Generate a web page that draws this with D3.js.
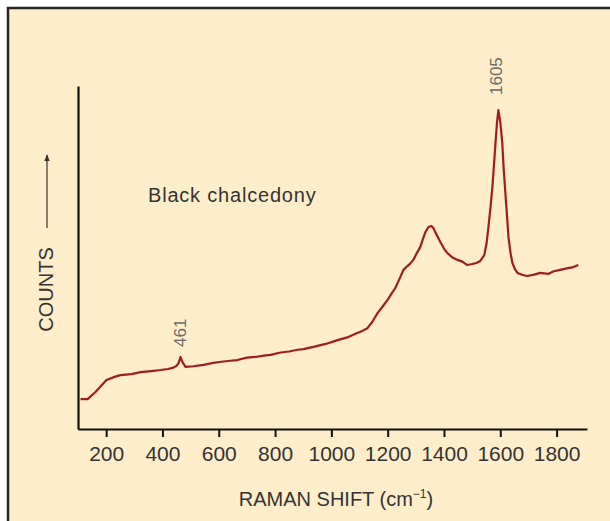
<!DOCTYPE html>
<html>
<head>
<meta charset="utf-8">
<script src="https://cdn.jsdelivr.net/npm/d3@7"></script>
<style>
  html, body { margin: 0; padding: 0; background: #ffffff; }
  svg { display: block; }
</style>
</head>
<body>
<div id="chart"></div>
<script>
// Raman spectrum of black chalcedony
// wavenumber (cm-1) and relative counts (0..100)
const ramanShift = [109, 134, 162, 201, 230, 251, 290, 322, 360, 393, 420, 436, 450, 457, 464, 471, 482,
  510, 546, 580, 610, 640, 666, 700, 730, 760, 784, 820, 850, 880, 901, 940, 980, 1022, 1060, 1092, 1110,
  1128, 1145, 1164, 1180, 1199, 1215, 1227, 1240, 1256, 1270, 1280, 1291, 1305, 1316, 1326, 1334, 1345,
  1355, 1362, 1369, 1378, 1387, 1400, 1412, 1430, 1448, 1465, 1483, 1500, 1515, 1529, 1543, 1551, 1558,
  1565, 1572, 1578, 1583, 1588, 1593, 1600, 1607, 1612, 1618, 1624, 1629, 1636, 1643, 1652, 1661, 1680,
  1696, 1720, 1742, 1770, 1790, 1813, 1840, 1860, 1877];
const counts = [8.7, 8.7, 10.8, 14.3, 15.2, 15.7, 16.0, 16.6, 16.9, 17.2, 17.5, 17.8, 18.4, 19.2, 21.0, 19.5, 18.1,
  18.3, 18.7, 19.3, 19.6, 19.9, 20.1, 20.8, 21.0, 21.4, 21.6, 22.3, 22.6, 23.1, 23.3, 24.0, 24.8, 25.9, 26.8, 28.0, 28.6,
  29.4, 31.2, 33.8, 35.5, 37.6, 39.6, 41.1, 43.4, 46.4, 47.5, 48.2, 49.3, 51.5, 53.1, 55.6, 57.4, 58.9,
  59.2, 58.6, 57.4, 56.0, 54.5, 52.6, 51.3, 50.0, 49.3, 48.8, 47.8, 48.1, 48.4, 49.0, 50.7, 54.0, 58.9,
  64.5, 70.6, 77.5, 83.4, 89.0, 93.0, 89.5, 83.4, 76.0, 68.8, 62.0, 56.0, 51.5, 48.4, 46.6, 45.5, 44.9,
  44.6, 45.0, 45.5, 45.2, 46.0, 46.4, 46.9, 47.2, 47.8];
const xTicks = [200, 400, 600, 800, 1000, 1200, 1400, 1600, 1800];
const peakLabels = [{ shift: 461, label: '461' }, { shift: 1605, label: '1605' }];

const width = 610;
const height = 521;
const fontFamily = "Helvetica, Arial, 'Liberation Sans', sans-serif";

const svg = d3.select('#chart')
  .append('svg')
  .attr('width', width)
  .attr('height', height);

// cream panel with dark frame on top and left
svg.append('rect')
  .attr('x', 8).attr('y', 8)
  .attr('width', width - 8).attr('height', height - 8)
  .attr('fill', '#fdedcb');
svg.append('path')
  .attr('d', 'M8,' + height + ' V8 H' + width)
  .attr('fill', 'none')
  .attr('stroke', '#262626')
  .attr('stroke-width', 2.5);

const x = d3.scaleLinear().domain([100, 1908]).range([78, 587]);
const y = d3.scaleLinear().domain([0, 100]).range([429, 86]);

// x axis
const xAxis = svg.append('g')
  .attr('transform', 'translate(0,' + y(0) + ')')
  .call(d3.axisBottom(x).tickValues(xTicks).tickFormat(d3.format('d'))
    .tickSize(8).tickSizeOuter(0).tickPadding(9));
xAxis.select('.domain').attr('stroke', '#111').attr('stroke-width', 2.2);
xAxis.selectAll('.tick line').attr('stroke', '#111').attr('stroke-width', 2);
xAxis.selectAll('.tick text')
  .attr('fill', '#333')
  .style('font-family', fontFamily)
  .style('font-size', '21px');

// y axis (no ticks)
const yAxis = svg.append('g')
  .attr('transform', 'translate(' + x(100) + ',0)')
  .call(d3.axisLeft(y).tickValues([]).tickSizeOuter(0));
yAxis.select('.domain').attr('stroke', '#111').attr('stroke-width', 2.2);

// axis titles
svg.append('text')
  .attr('x', 336).attr('y', 506)
  .attr('text-anchor', 'middle')
  .attr('fill', '#333')
  .style('font-family', fontFamily)
  .style('font-size', '20px')
  .call(t => {
    t.append('tspan').text('RAMAN SHIFT (cm');
    t.append('tspan').attr('font-size', '12px').attr('dy', -8).text('\u22121');
    t.append('tspan').attr('dy', 8).text(')');
  });

svg.append('text')
  .attr('transform', 'translate(53,289.5) rotate(-90)')
  .attr('text-anchor', 'middle')
  .attr('fill', '#333')
  .style('font-family', fontFamily)
  .style('font-size', '20px')
  .text('COUNTS');

// arrow next to COUNTS
svg.append('defs').append('marker')
  .attr('id', 'arrowhead')
  .attr('viewBox', '0 0 10 10')
  .attr('refX', 9).attr('refY', 5)
  .attr('markerWidth', 7).attr('markerHeight', 7)
  .attr('markerUnits', 'userSpaceOnUse')
  .attr('orient', 'auto')
  .append('path')
  .attr('d', 'M0,1 L10,5 L0,9 Z')
  .attr('fill', '#333');
svg.append('line')
  .attr('x1', 47).attr('x2', 47)
  .attr('y1', 228).attr('y2', 155)
  .attr('stroke', '#333')
  .attr('stroke-width', 1.2)
  .attr('marker-end', 'url(#arrowhead)');

// sample name
svg.append('text')
  .attr('x', 148).attr('y', 202)
  .attr('fill', '#333')
  .attr('letter-spacing', 0.8)
  .style('font-family', fontFamily)
  .style('font-size', '20px')
  .text('Black chalcedony');

// spectrum
const spectrum = ramanShift.map((s, i) => [s, counts[i]]);
const line = d3.line().x(d => x(d[0])).y(d => y(d[1]));
svg.append('path')
  .datum(spectrum)
  .attr('d', line)
  .attr('fill', 'none')
  .attr('stroke', '#9e1c22')
  .attr('stroke-width', 2.2)
  .attr('stroke-linejoin', 'round');

// peak labels, rotated above each peak
const peakPos = { '461': [186, 347], '1605': [502, 95] };
svg.selectAll('.peak-label')
  .data(peakLabels)
  .join('text')
  .attr('class', 'peak-label')
  .attr('transform', d => 'translate(' + peakPos[d.label][0] + ',' + peakPos[d.label][1] + ') rotate(-90)')
  .attr('fill', '#6a6a6a')
  .style('font-family', fontFamily)
  .style('font-size', '17px')
  .text(d => d.label);
</script>
</body>
</html>
